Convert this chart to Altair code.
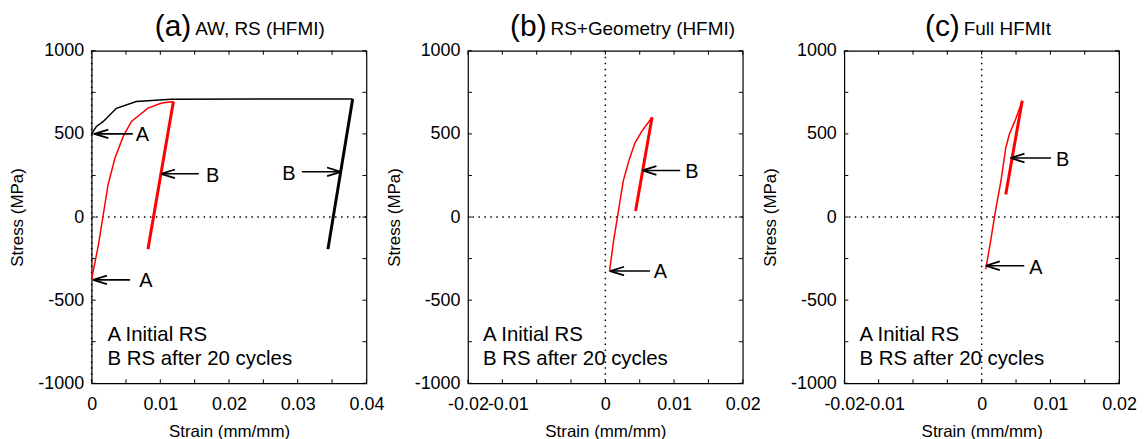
import altair as alt
import pandas as pd

FONT = "Liberation Sans"
W, H = 276, 334

# ---------------- axes ----------------
Y_DOMAIN = [-1000, 1000]
Y_TICKS = [-1000, -500, 0, 500, 1000]
Y_TICK_LABELS = ["-1000", "-500", "0", "500", "1000"]
Y_MINOR = [-1000, -750, -500, -250, 0, 250, 500, 750, 1000]

XA_DOMAIN = [0, 0.04]
XA_TICKS = [0, 0.01, 0.02, 0.03, 0.04]
XA_TICK_LABELS = ["0", "0.01", "0.02", "0.03", "0.04"]
XA_MINOR = [0, 0.005, 0.01, 0.015, 0.02, 0.025, 0.03, 0.035, 0.04]

XB_DOMAIN = [-0.02, 0.02]
XB_TICKS = [-0.02, -0.01, 0, 0.01, 0.02]
XB_TICK_LABELS = ["-0.02", "-0.01", "0", "0.01", "0.02"]
XB_MINOR = [-0.02, -0.015, -0.01, -0.005, 0, 0.005, 0.01, 0.015, 0.02]

# ---------------- panel (a) ----------------
A_RED_LOAD_X = [0.0000, 0.0010, 0.0017, 0.0024, 0.0034, 0.0046, 0.0058, 0.0082, 0.0101, 0.0119]
A_RED_LOAD_Y = [-375, -164, 16, 196, 355, 485, 575, 655, 684, 695]
A_RED_UNLOAD_X = [0.0119, 0.0082]
A_RED_UNLOAD_Y = [695, -193]
A_BLK_LOAD_X = [0.0000, 0.0007, 0.0017, 0.0036, 0.0065, 0.0116, 0.0250, 0.0380]
A_BLK_LOAD_Y = [500, 545, 575, 654, 695, 708, 710, 710]
A_BLK_UNLOAD_X = [0.0380, 0.0344]
A_BLK_UNLOAD_Y = [710, -193]

A_ARROW_TIP_X = [0.0004, 0.0002, 0.0101, 0.0363]
A_ARROW_TAIL_X = [0.0060, 0.0056, 0.0156, 0.0306]
A_ARROW_Y = [500, -378, 260, 272]
A_ARROW_LABEL = ["A", "A", "B", "B"]
A_LABEL_X = [0.0074, 0.0079, 0.0176, 0.0287]
A_LABEL_Y = [495, -385, 245, 260]

# ---------------- panel (b) ----------------
B_RED_LOAD_X = [0.0006, 0.0012, 0.0019, 0.0026, 0.0034, 0.0043, 0.0053, 0.0068]
B_RED_LOAD_Y = [-328, -144, 36, 216, 335, 445, 515, 600]
B_RED_UNLOAD_X = [0.0068, 0.0044]
B_RED_UNLOAD_Y = [600, 36]

B_ARROW_TIP_X = [0.0007, 0.0054]
B_ARROW_TAIL_X = [0.0065, 0.0109]
B_ARROW_Y = [-325, 280]
B_ARROW_LABEL = ["A", "B"]
B_LABEL_X = [0.0080, 0.0126]
B_LABEL_Y = [-333, 271]

# ---------------- panel (c) ----------------
C_RED_LOAD_X = [0.0006, 0.0013, 0.0020, 0.0028, 0.0035, 0.0040, 0.0050, 0.0059]
C_RED_LOAD_Y = [-313, -144, 36, 216, 415, 495, 595, 700]
C_RED_UNLOAD_X = [0.0059, 0.0035]
C_RED_UNLOAD_Y = [700, 136]

C_ARROW_TIP_X = [0.0006, 0.0042]
C_ARROW_TAIL_X = [0.0062, 0.0101]
C_ARROW_Y = [-293, 355]
C_ARROW_LABEL = ["A", "B"]
C_LABEL_X = [0.0079, 0.0118]
C_LABEL_Y = [-304, 340]

LEGEND_LINES = ["A Initial RS", "B RS after 20 cycles"]
LEGEND_Y = [-707, -852]

TITLES = [("(a)", "AW, RS (HFMI)"), ("(b)", "RS+Geometry (HFMI)"), ("(c)", "Full HFMIt")]


def label_expr(values, labels):
    expr = "''"
    for v, l in reversed(list(zip(values, labels))):
        expr = f"abs(datum.value - ({v})) < 0.000000001 ? '{l}' : ({expr})"
    return expr


def panel(xdomain, xticks, xlabels, xminor, lines, arrows, legend_x, title, title_x, shift_label=None):
    if shift_label is not None:
        lab_off = {"condition": {"test": f"abs(datum.value - ({shift_label[0]})) < 0.000000001",
                                 "value": shift_label[1]}, "value": 0}
    else:
        lab_off = 0
    xaxis = alt.Axis(values=xticks, labelExpr=label_expr(xticks, xlabels), title="Strain (mm/mm)",
                     labelOffset=lab_off, labelPadding=12, titlePadding=10,
                     labelOverlap=False, labelFlush=False)
    yaxis = alt.Axis(values=Y_TICKS, labelExpr=label_expr(Y_TICKS, Y_TICK_LABELS), title="Stress (MPa)",
                     labelPadding=8, titlePadding=11, labelOverlap=False, labelFlush=False)
    xs = alt.Scale(domain=xdomain, nice=False, zero=False)
    ys = alt.Scale(domain=Y_DOMAIN, nice=False, zero=False)

    def X(f):
        return alt.X(f"{f}:Q", scale=xs, axis=xaxis)

    def Y(f):
        return alt.Y(f"{f}:Q", scale=ys, axis=yaxis)

    layers = []
    # inward ticks on all four sides
    dfx = pd.DataFrame({"strain": xminor})
    dfy = pd.DataFrame({"stress": Y_MINOR})
    tick_style = dict(color="black", strokeWidth=1)
    layers.append(alt.Chart(dfx).mark_rule(**tick_style).encode(x=X("strain"), y=alt.value(H), y2=alt.value(H - 4)))
    layers.append(alt.Chart(dfx).mark_rule(**tick_style).encode(x=X("strain"), y=alt.value(0), y2=alt.value(4)))
    layers.append(alt.Chart(dfy).mark_rule(**tick_style).encode(y=Y("stress"), x=alt.value(0), x2=alt.value(4)))
    layers.append(alt.Chart(dfy).mark_rule(**tick_style).encode(y=Y("stress"), x=alt.value(W), x2=alt.value(W - 4)))

    # dotted zero lines
    dot = dict(color="black", strokeWidth=1.5, strokeDash=[1.5, 4.5])
    layers.append(alt.Chart(pd.DataFrame({"stress": [0]})).mark_rule(**dot).encode(y=Y("stress")))
    layers.append(alt.Chart(pd.DataFrame({"strain": [0]})).mark_rule(**dot).encode(x=X("strain")))

    # curves
    for lx, ly, color, width in lines:
        df = pd.DataFrame({"strain": lx, "stress": ly, "i": list(range(len(lx)))})
        layers.append(alt.Chart(df).mark_line(color=color, strokeWidth=width).encode(
            x=X("strain"), y=Y("stress"), order="i:Q"))

    # arrows
    tip, tail, ay, alab, lx, ly = arrows
    dfa = pd.DataFrame({"strain": tail, "tip": tip, "stress": ay,
                        "angle": [0 if t < s else 180 for t, s in zip(tip, tail)]})
    layers.append(alt.Chart(dfa).mark_rule(color="black", strokeWidth=1.6).encode(
        x=X("strain"), x2=alt.X2("tip:Q"), y=Y("stress")))
    dfh = pd.DataFrame({"strain": tip, "stress": ay, "angle": dfa["angle"]})
    layers.append(alt.Chart(dfh).mark_point(shape="M0,0L2,-0.62M0,0L2,0.62", filled=False, size=196,
                                            color="black", strokeWidth=1.8, opacity=1).encode(
        x=X("strain"), y=Y("stress"), angle=alt.Angle("angle:Q", scale=None)))
    dfl = pd.DataFrame({"strain": lx, "stress": ly, "t": alab})
    layers.append(alt.Chart(dfl).mark_text(font=FONT, fontSize=20, color="black", align="center",
                                           baseline="middle").encode(
        x=X("strain"), y=Y("stress"), text="t:N"))

    # legend text
    dfg = pd.DataFrame({"strain": [legend_x] * len(LEGEND_LINES), "stress": LEGEND_Y, "t": LEGEND_LINES})
    layers.append(alt.Chart(dfg).mark_text(font=FONT, fontSize=20.5, color="black", align="left",
                                           baseline="middle").encode(
        x=X("strain"), y=Y("stress"), text="t:N"))

    # title
    tag, txt = title
    layers.append(alt.Chart(pd.DataFrame({"t": [tag]})).mark_text(
        font=FONT, fontSize=30, color="black", align="right", baseline="alphabetic").encode(
        x=alt.value(title_x), y=alt.value(-15), text="t:N"))
    layers.append(alt.Chart(pd.DataFrame({"t": [txt]})).mark_text(
        font=FONT, fontSize=19, color="black", align="left", baseline="alphabetic").encode(
        x=alt.value(title_x + 4), y=alt.value(-16), text="t:N"))

    return alt.layer(*layers).properties(width=W, height=H)


pa = panel(XA_DOMAIN, XA_TICKS, XA_TICK_LABELS, XA_MINOR,
           [(A_BLK_LOAD_X, A_BLK_LOAD_Y, "black", 1.5), (A_BLK_UNLOAD_X, A_BLK_UNLOAD_Y, "black", 3),
            (A_RED_LOAD_X, A_RED_LOAD_Y, "#ff0000", 1.5), (A_RED_UNLOAD_X, A_RED_UNLOAD_Y, "#ff0000", 3)],
           (A_ARROW_TIP_X, A_ARROW_TAIL_X, A_ARROW_Y, A_ARROW_LABEL, A_LABEL_X, A_LABEL_Y),
           0.0023, TITLES[0], 100)
pb = panel(XB_DOMAIN, XB_TICKS, XB_TICK_LABELS, XB_MINOR,
           [(B_RED_LOAD_X, B_RED_LOAD_Y, "#ff0000", 1.5), (B_RED_UNLOAD_X, B_RED_UNLOAD_Y, "#ff0000", 3)],
           (B_ARROW_TIP_X, B_ARROW_TAIL_X, B_ARROW_Y, B_ARROW_LABEL, B_LABEL_X, B_LABEL_Y),
           -0.0178, TITLES[1], 79, shift_label=(-0.01, -29))
pc = panel(XB_DOMAIN, XB_TICKS, XB_TICK_LABELS, XB_MINOR,
           [(C_RED_LOAD_X, C_RED_LOAD_Y, "#ff0000", 1.5), (C_RED_UNLOAD_X, C_RED_UNLOAD_Y, "#ff0000", 3)],
           (C_ARROW_TIP_X, C_ARROW_TAIL_X, C_ARROW_Y, C_ARROW_LABEL, C_LABEL_X, C_LABEL_Y),
           -0.0178, TITLES[2], 116, shift_label=(-0.01, -29))

chart = alt.hconcat(pa, pb, pc, spacing=102, bounds="flush").properties(
    padding={"left": 0, "top": 2, "right": 0, "bottom": 0}, background="white"
).configure_view(stroke="black", strokeWidth=1.2).configure_axis(
    domain=False, ticks=False, grid=False,
    labelFont=FONT, labelFontSize=18, labelColor="black",
    titleFont=FONT, titleFontSize=17, titleFontWeight="normal", titleColor="black",
)

chart.save("out.html", embed_options={"renderer": "svg", "actions": False})
